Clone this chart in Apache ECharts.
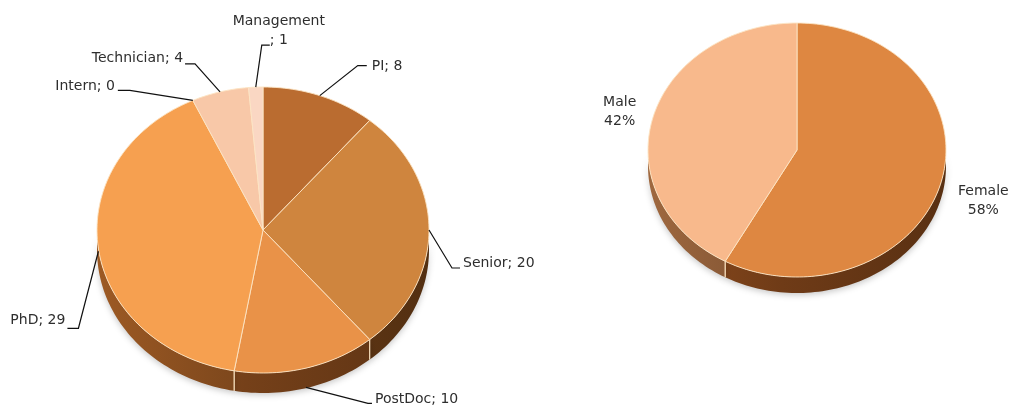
<!DOCTYPE html>
<html>
<head>
<meta charset="utf-8">
<script src="https://cdn.jsdelivr.net/npm/echarts@6/dist/echarts.min.js"></script>
<style>
html, body { margin: 0; padding: 0; background: #ffffff; }
#chart { width: 1015px; height: 405px; }
</style>
</head>
<body>
<div id="chart"></div>
<script>
// Staff by role (head count)
const staffCategories = ['PI', 'Senior', 'PostDoc', 'PhD', 'Intern', 'Technician', 'Management'];
const staffValues = [8, 20, 10, 29, 0, 4, 1];

// Staff by gender (percent)
const genderCategories = ['Female', 'Male'];
const genderValues = [58, 42];

// Slice colours
const staffColors = ['#BA6C30', '#CF853E', '#E99248', '#F6A050', '#F4B58A', '#F8C8A8', '#FAD7C3'];
const genderColors = ['#DE8741', '#F8B98C'];

// Tilted pie geometry: centre, projected radii and side depth
const staffPie = { cx: 263, cy: 230, rx: 166, ry: 143, depth: 20 };
const genderPie = { cx: 797, cy: 150, rx: 149, ry: 127, depth: 16 };

// Leader-line layout for the role pie: elbow offset from the rim anchor,
// horizontal tail length, text offset from the tail end, alignment
const staffLabelLayout = {
  'PI':         { elbow: [38, -30], tail: 9,   text: [5, 1],   align: 'left' },
  'Senior':     { elbow: [23, 38],  tail: 8,   text: [3, -5],  align: 'left' },
  'PostDoc':    { elbow: [62, 16],  tail: 4,   text: [3, -4],  align: 'left' },
  'PhD':        { elbow: [-20, 77], tail: -11, text: [-2, -8], align: 'right' },
  'Intern':     { elbow: [-63, -10], tail: -12, text: [-3, -4], align: 'right' },
  'Technician': { elbow: [-25, -28], tail: -10, text: [-2, -6], align: 'right' },
  'Management': { elbow: [6, -42],  tail: 8,   text: [9, -14], align: 'center' }
};
// Text offsets for the gender pie (from the rim point at mid angle)
const genderLabelOffset = { 'Female': [42, 19], 'Male': [-33, -7] };

const FONT = '14px "DejaVu Sans", sans-serif';
const TEXT_COLOR = '#2e2e2e';

function shade(hex, f) {
  const n = parseInt(hex.slice(1), 16);
  const r = (n >> 16) & 255, g = (n >> 8) & 255, b = n & 255;
  return 'rgb(' + Math.round(r * f) + ',' + Math.round(g * f * 0.88) + ',' + Math.round(b * f * 0.7) + ')';
}

function rimPoint(p, a, dy) {
  return [p.cx + p.rx * Math.sin(a), p.cy - p.ry * Math.cos(a) + (dy || 0)];
}

function arcPoints(p, a0, a1, dy) {
  const pts = [];
  const n = Math.max(2, Math.ceil(Math.abs(a1 - a0) / (Math.PI / 120)));
  for (let i = 0; i <= n; i++) {
    pts.push(rimPoint(p, a0 + (a1 - a0) * i / n, dy));
  }
  return pts;
}

// Build a renderItem for a tilted pie from its values
function makePieRenderer(p, categories, values, colors, labelFn) {
  const total = values.reduce((s, v) => s + v, 0);
  const starts = [];
  let acc = 0;
  values.forEach(v => { starts.push(acc); acc += v; });

  return function (params, api) {
    const i = params.dataIndex;
    const v = api.value(0);
    const a0 = starts[i] / total * Math.PI * 2;
    const a1 = (starts[i] + v) / total * Math.PI * 2;
    const color = colors[i];
    const children = [];

    if (v > 0) {
      // front side wall (visible between 90° and 270°, clockwise from top)
      const w0 = Math.max(a0, Math.PI / 2);
      const w1 = Math.min(a1, Math.PI * 1.5);
      if (w1 > w0) {
        const top = arcPoints(p, w0, w1, 0);
        const bottom = arcPoints(p, w1, w0, p.depth);
        children.push({
          type: 'polygon',
          z2: 1,
          shape: { points: top.concat(bottom) },
          style: {
            fill: new echarts.graphic.LinearGradient(p.cx - p.rx, 0, p.cx + p.rx, 0, [
              { offset: 0, color: shade(color, 0.64) },
              { offset: 0.45, color: shade(color, 0.5) },
              { offset: 1, color: shade(color, 0.4) }
            ], true),
            shadowColor: 'rgba(0,0,0,0.22)',
            shadowBlur: 6,
            shadowOffsetY: 2
          }
        });
        // light seams where slices meet on the side
        [a0, a1].forEach(a => {
          if (a > Math.PI / 2 + 0.02 && a < Math.PI * 1.5 - 0.02) {
            const t = rimPoint(p, a, 0);
            children.push({
              type: 'line', z2: 2,
              shape: { x1: t[0], y1: t[1], x2: t[0], y2: t[1] + p.depth },
              style: { stroke: 'rgba(250,225,190,0.85)', lineWidth: 1 }
            });
          }
        });
      }
      // top face
      children.push({
        type: 'polygon',
        z2: 5,
        shape: { points: [[p.cx, p.cy]].concat(arcPoints(p, a0, a1, 0)) },
        style: { fill: color, stroke: 'rgba(252,228,196,0.9)', lineWidth: 1 }
      });
    }

    labelFn(children, p, categories[i], v, total, (a0 + a1) / 2);
    return { type: 'group', children: children };
  };
}

function staffLabels(children, p, name, v, total, mid) {
  const lay = staffLabelLayout[name];
  const c = Math.cos(mid);
  const anchor = rimPoint(p, mid, c < 0 ? p.depth * -c : 0);
  const elbow = [anchor[0] + lay.elbow[0], anchor[1] + lay.elbow[1]];
  const tailEnd = [elbow[0] + lay.tail, elbow[1]];
  children.push({
    type: 'polyline', z2: 8,
    shape: { points: [anchor, elbow, tailEnd] },
    style: { stroke: '#111111', lineWidth: 1.2, fill: null }
  });
  const txt = name === 'Management' ? name + '\n; ' + v : name + '; ' + v;
  children.push({
    type: 'text', z2: 10,
    x: tailEnd[0] + lay.text[0],
    y: tailEnd[1] + lay.text[1],
    style: {
      text: txt, font: FONT, fill: TEXT_COLOR,
      align: lay.align, verticalAlign: 'middle', lineHeight: 19
    }
  });
}

function genderLabels(children, p, name, v, total, mid) {
  const off = genderLabelOffset[name];
  const rim = rimPoint(p, mid, 0);
  children.push({
    type: 'text', z2: 10,
    x: rim[0] + off[0],
    y: rim[1] + off[1],
    style: {
      text: name + '\n' + Math.round(v / total * 100) + '%',
      font: FONT, fill: TEXT_COLOR,
      align: 'center', verticalAlign: 'middle', lineHeight: 19
    }
  });
}

const chart = echarts.init(document.getElementById('chart'), null, { renderer: 'canvas' });
chart.setOption({
  backgroundColor: '#ffffff',
  animation: false,
  series: [
    {
      type: 'custom',
      name: 'Role',
      coordinateSystem: 'none',
      silent: true,
      data: staffValues.map((v, i) => ({ name: staffCategories[i], value: [v] })),
      renderItem: makePieRenderer(staffPie, staffCategories, staffValues, staffColors, staffLabels)
    },
    {
      type: 'custom',
      name: 'Gender',
      coordinateSystem: 'none',
      silent: true,
      data: genderValues.map((v, i) => ({ name: genderCategories[i], value: [v] })),
      renderItem: makePieRenderer(genderPie, genderCategories, genderValues, genderColors, genderLabels)
    }
  ]
});
</script>
</body>
</html>
